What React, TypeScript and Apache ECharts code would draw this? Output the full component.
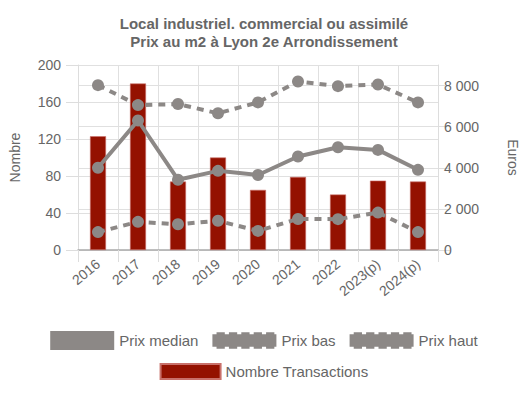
import React, { useEffect, useRef } from "react";
import * as echarts from "echarts";

const categories = ["2016", "2017", "2018", "2019", "2020", "2021", "2022", "2023(p)", "2024(p)"];
const transactions = [123, 180, 74, 100, 65, 79, 60, 75, 74];
const prixMedian = [4000, 6300, 3420, 3850, 3650, 4550, 5000, 4870, 3900];
const prixBas = [870, 1370, 1250, 1420, 930, 1510, 1500, 1820, 870];
const prixHaut = [8020, 7050, 7100, 6650, 7180, 8200, 7970, 8050, 7180];

const leftTicks = { min: 0, max: 200, interval: 40 };
const rightTicks = { min: 0, max: 9000, interval: 2000 };

const GREY = "#8c8886";
const RED = "#941100";
const TXT = "#666666";
const FONT = "'Liberation Sans', Arial, sans-serif";

const dashedIcon =
  "path://M0,2H4V0H12V2H16V0H24V2H28V0H36V2H40V0H48V2H52V0H60V2H62V14H60V16H52V14H48V16H40V14H36V16H28V14H24V16H16V14H12V16H4V14H0Z";

export default function App() {
  const ref = useRef<HTMLDivElement>(null);
  useEffect(() => {
    if (!ref.current) return;
    const chart = echarts.init(ref.current, undefined, { renderer: "svg" });
    const fmt = (v: number) => (v >= 1000 ? `${Math.floor(v / 1000)} ${String(v % 1000).padStart(3, "0")}` : String(v));
    chart.setOption({
      animation: false,
      textStyle: { fontFamily: FONT },
      title: {
        text: "Local industriel. commercial ou assimilé\nPrix au m2 à Lyon 2e Arrondissement",
        left: "center",
        top: 9,
        textStyle: { fontSize: 15, fontWeight: "bold", color: TXT, lineHeight: 18, fontFamily: FONT },
      },
      legend: [
        {
          top: 326,
          left: "center",
          itemWidth: 64,
          itemHeight: 19,
          itemGap: 14,
          textStyle: { fontSize: 15, color: TXT, fontFamily: FONT },
          data: [
            { name: "Prix median", icon: "rect" },
            { name: "Prix bas", icon: dashedIcon },
            { name: "Prix haut", icon: dashedIcon },
          ],
        },
        {
          top: 358,
          left: "center",
          itemWidth: 60,
          itemHeight: 15,
          itemGap: 14,
          textStyle: { fontSize: 15, color: TXT, fontFamily: FONT },
          data: [{ name: "Nombre Transactions", icon: "rect" }],
        },
      ],
      grid: { left: 76, right: 88, top: 65, bottom: 143 },
      xAxis: {
        type: "category",
        data: categories,
        boundaryGap: true,
        axisLine: { lineStyle: { color: "#aaa", width: 1.5 } },
        axisTick: { show: true, length: 12, lineStyle: { color: "#ddd" } },
        splitLine: { show: true, lineStyle: { color: "#e0e0e0" } },
        axisLabel: { rotate: 40, color: TXT, fontSize: 14, margin: 12, interval: 0, fontFamily: FONT },
      },
      yAxis: [
        {
          type: "value",
          ...leftTicks,
          name: "Nombre",
          nameLocation: "middle",
          nameRotate: 90,
          nameGap: 56,
          nameTextStyle: { color: TXT, fontSize: 14, fontFamily: FONT },
          axisLine: { show: true, lineStyle: { color: "#ddd" } },
          axisTick: { show: true, length: 12, lineStyle: { color: "#ddd" } },
          axisLabel: { color: TXT, fontSize: 14, margin: 17, fontFamily: FONT },
          splitLine: { show: true, lineStyle: { color: "#e0e0e0" } },
        },
        {
          type: "value",
          ...rightTicks,
          name: "Euros",
          nameLocation: "middle",
          nameRotate: -90,
          nameGap: 68,
          nameTextStyle: { color: TXT, fontSize: 14, fontFamily: FONT },
          axisLine: { show: true, lineStyle: { color: "#ddd" } },
          axisTick: { show: true, length: 12, lineStyle: { color: "#ddd" } },
          axisLabel: { color: TXT, fontSize: 14, margin: 6, formatter: fmt, showMaxLabel: false, fontFamily: FONT },
          splitLine: { show: true, lineStyle: { color: "#e0e0e0" } },
        },
      ],
      series: [
        {
          name: "Prix median",
          type: "line",
          yAxisIndex: 1,
          data: prixMedian,
          z: 5,
          symbol: "circle",
          symbolSize: 12,
          itemStyle: { color: GREY },
          lineStyle: { color: GREY, width: 4 },
        },
        {
          name: "Prix bas",
          type: "line",
          yAxisIndex: 1,
          data: prixBas,
          z: 5,
          symbol: "circle",
          symbolSize: 12,
          itemStyle: { color: GREY },
          lineStyle: { color: GREY, width: 4, type: [7, 6] },
        },
        {
          name: "Prix haut",
          type: "line",
          yAxisIndex: 1,
          data: prixHaut,
          z: 5,
          symbol: "circle",
          symbolSize: 12,
          itemStyle: { color: GREY },
          lineStyle: { color: GREY, width: 4, type: [7, 6] },
        },
        {
          name: "Nombre Transactions",
          type: "bar",
          yAxisIndex: 0,
          data: transactions,
          barWidth: 16,
          z: 2,
          itemStyle: { color: RED, borderColor: "#c9706a", borderWidth: 0.6 },
        },
      ],
    });
    return () => chart.dispose();
  }, []);
  return <div ref={ref} style={{ width: 528, height: 393, position: "absolute", left: 0, top: 0 }} />;
}
